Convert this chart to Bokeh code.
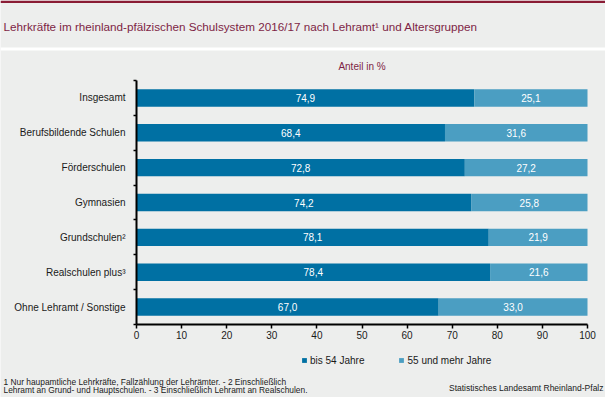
from bokeh.plotting import figure
from bokeh.models import (ColumnDataSource, Range1d, FixedTicker, Label, Legend, LegendItem,
                          LinearAxis, BoxAnnotation)
from bokeh.core.properties import value
from bokeh.embed import file_html
from bokeh.resources import INLINE

categories = ["Insgesamt", "Berufsbildende Schulen", "Förderschulen", "Gymnasien",
              "Grundschulen²", "Realschulen plus³", "Ohne Lehramt / Sonstige"]
bis54 = [74.9, 68.4, 72.8, 74.2, 78.1, 78.4, 67.0]
ab55 = [25.1, 31.6, 27.2, 25.8, 21.9, 21.6, 33.0]
series_names = ["bis 54 Jahre", "55 und mehr Jahre"]
x_ticks = [0, 10, 20, 30, 40, 50, 60, 70, 80, 90, 100]

title_text = "Lehrkräfte im rheinland-pfälzischen Schulsystem 2016/17 nach Lehramt¹ und Altersgruppen"
subtitle_text = "Anteil in %"
foot_text = ("1 Nur haupamtliche Lehrkräfte, Fallzählung der Lehrämter. - 2 Einschließlich\n"
             "Lehramt an Grund- und Hauptschulen. - 3 Einschließlich Lehramt an Realschulen.")
source_text = "Statistisches Landesamt Rheinland-Pfalz"

BG = "#EDEEED"
DARK = "#0070A3"
LIGHT = "#4B9EC2"
MAROON = "#7E1F45"
RED = "#8A1C35"
TXT = "#1a1a1a"
FONT = "Liberation Sans"

W, H = 605, 397
# plot box in canvas pixels (the frame fills the whole canvas, axes sit at fixed places)
PX_L, PX_R, PX_T, PX_B = 136, 587, 80, 324
n = len(categories)
x0, x1 = 0, 100
y0, y1 = 0.5, n + 0.5
sx = (PX_R - PX_L) / (x1 - x0)
sy = (PX_B - PX_T) / (y1 - y0)
x_range = Range1d(x0 - PX_L / sx, x1 + (W - PX_R) / sx)
y_range = Range1d(y1 + (H - PX_B) / sy, y0 - PX_T / sy)

p = figure(width=W, height=H, output_backend="svg", toolbar_location=None, title=None,
           x_range=x_range, y_range=y_range, x_axis_type=None, y_axis_type=None,
           min_border=0)
p.background_fill_color = BG
p.border_fill_color = BG
p.outline_line_color = None

ypos = [i + 1 for i in range(n)]
src = ColumnDataSource(dict(y=ypos, bis54=bis54, ab55=ab55))
bars = p.hbar_stack(["bis54", "ab55"], y="y", height=0.5, color=[DARK, LIGHT],
                    line_color=None, source=src)

lx, ly, lt = [], [], []
for i in range(n):
    lx += [bis54[i] / 2, bis54[i] + ab55[i] / 2]
    ly += [ypos[i], ypos[i]]
    lt += [f"{bis54[i]:.1f}".replace(".", ","), f"{ab55[i]:.1f}".replace(".", ",")]
p.text(x=lx, y=ly, text=lt, text_color="white", text_align="center", text_baseline="middle",
       text_font=value(FONT), text_font_size="10px")

xa = LinearAxis(fixed_location=y1, bounds=(x0, x1), ticker=FixedTicker(ticks=x_ticks))
xa.axis_line_color = "black"
xa.axis_line_width = 2
xa.major_tick_line_color = "black"
xa.major_tick_line_width = 1.5
xa.major_tick_out = 4
xa.major_tick_in = 0
xa.minor_tick_line_color = None
xa.major_label_standoff = 2
xa.major_label_text_font = FONT
xa.major_label_text_font_size = "10px"
xa.major_label_text_color = TXT
p.add_layout(xa, "below")

ya = LinearAxis(fixed_location=x0, bounds=(y0, y1),
                ticker=FixedTicker(ticks=ypos, minor_ticks=[i + 0.5 for i in range(n + 1)]))
ya.major_label_overrides = {ypos[i]: categories[i] for i in range(n)}
ya.axis_line_color = "black"
ya.axis_line_width = 2
ya.major_tick_line_color = None
ya.major_tick_out = 0
ya.major_tick_in = 0
ya.minor_tick_line_color = "black"
ya.minor_tick_line_width = 1.5
ya.minor_tick_out = 3
ya.minor_tick_in = 0
ya.major_label_standoff = 8
ya.major_label_text_font = FONT
ya.major_label_text_font_size = "10px"
ya.major_label_text_color = TXT
p.add_layout(ya, "left")

legend = Legend(items=[LegendItem(label=series_names[0], renderers=[bars[0]]),
                       LegendItem(label=series_names[1], renderers=[bars[1]])],
                location=(301, H - 366), orientation="horizontal",
                background_fill_alpha=0, border_line_color=None, padding=0, margin=0,
                spacing=34, glyph_width=6, glyph_height=6, label_standoff=3,
                label_height=12, label_text_font=FONT,
                label_text_font_size="10px", label_text_color=TXT)
p.add_layout(legend)

for top, bottom, col in [(0, 2.5, RED), (47, 50, "white")]:
    p.add_layout(BoxAnnotation(left=0, right=W, top=top, bottom=bottom, left_units="canvas",
                               right_units="canvas", top_units="canvas", bottom_units="canvas",
                               fill_color=col, fill_alpha=1, line_alpha=0))


def canvas_label(x, y, text, size, color=TXT, align="left", **kw):
    p.add_layout(Label(x=x, y=y, x_units="canvas", y_units="canvas", text=text,
                       text_font=FONT, text_font_size=size, text_color=color,
                       text_align=align, text_baseline="middle", **kw))


canvas_label(3, 26, title_text, "11.7px", color=MAROON)
canvas_label((PX_L + PX_R) / 2, 66, subtitle_text, "10px", color=MAROON, align="center")
canvas_label(3, 385.5, foot_text, "8.4px", text_line_height=0.85)
canvas_label(603, 387, source_text, "8.5px", align="right")

open("out.html", "w").write(file_html(p, INLINE))
